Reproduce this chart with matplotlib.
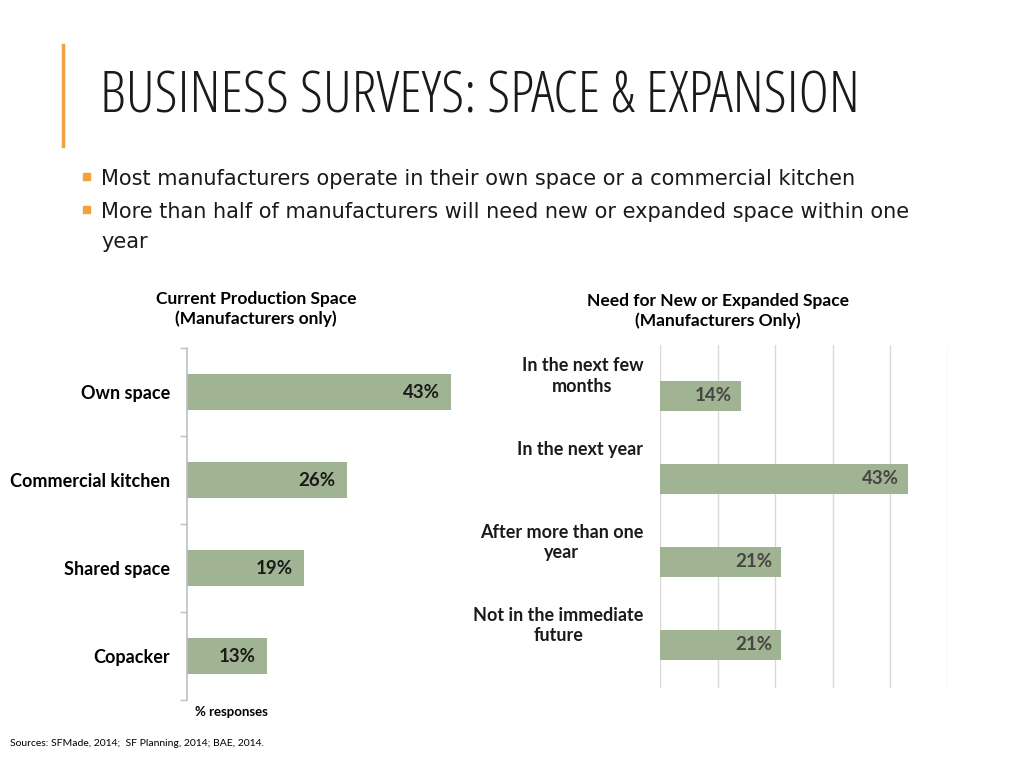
"""Business surveys slide: two horizontal bar charts."""

import matplotlib.pyplot as plt
from matplotlib.patches import Rectangle
from matplotlib.lines import Line2D

# data
space_cats = ['Own space', 'Commercial kitchen', 'Shared space', 'Copacker']
space_vals = [43, 26, 19, 13]

need_cats = ['In the next few\nmonths', 'In the next year',
             'After more than one\nyear', 'Not in the immediate\nfuture']
need_vals = [14, 43, 21, 21]

bullets = ['Most manufacturers operate in their own space or a commercial kitchen',
           'More than half of manufacturers will need new or expanded space within one\nyear']

BAR = '#A0B393'
ORANGE = '#F2A23A'
BODY = ['Lato', 'DejaVu Sans']

fig = plt.figure(figsize=(10.24, 7.68), dpi=100)

# slide title + accent bar
fig.add_artist(Line2D([63 / 1024, 63 / 1024], [1 - 45 / 768, 1 - 146 / 768],
                      color=ORANGE, lw=2.5))
fig.text(100 / 1024, 1 - 98 / 768, 'BUSINESS SURVEYS: SPACE & EXPANSION',
         family=['Open Sans', 'DejaVu Sans'], stretch='condensed', weight='light',
         fontsize=42, color='#1a1a1a', va='center', ha='left')

# bullets
for y, txt in zip([178, 211], bullets):
    fig.add_artist(Rectangle((83 / 1024, 1 - (y + 2) / 768), 7 / 1024, 7 / 768,
                             color=ORANGE, transform=fig.transFigure))
    fig.text(101 / 1024, 1 - (y - 9) / 768, txt, family='DejaVu Sans',
             fontsize=15, color='#1a1a1a', va='top', ha='left',
             linespacing=1.6)

# chart titles
fig.text(256 / 1024, 1 - 309 / 768, 'Current Production Space\n(Manufacturers only)',
         family=BODY, fontsize=12.5, weight='bold', ha='center', va='center',
         linespacing=1.3)
fig.text(718 / 1024, 1 - 311 / 768, 'Need for New or Expanded Space\n(Manufacturers Only)',
         family=BODY, fontsize=12.5, weight='bold', ha='center', va='center',
         linespacing=1.3)

# left chart
ax1 = fig.add_axes([187 / 1024, 68 / 768, 307 / 1024, 352 / 768])
ypos = range(len(space_cats))
ax1.barh(ypos, space_vals, height=0.41, color=BAR)
ax1.set_xlim(0, 50)
ax1.set_ylim(3.5, -0.5)
ax1.set_yticks([y - 0.5 for y in range(len(space_cats) + 1)])
ax1.set_yticklabels([])
ax1.set_yticks(list(ypos), minor=True)
ax1.set_yticklabels(space_cats, minor=True, family=BODY, fontsize=13,
                    weight='bold')
ax1.tick_params(axis='y', which='major', length=5, color='#BFBFBF', width=1)
ax1.tick_params(axis='y', which='minor', length=0, pad=12)
ax1.set_xticks([])
for s in ['top', 'right', 'bottom']:
    ax1.spines[s].set_visible(False)
ax1.spines['left'].set_color('#BFBFBF')
ax1.spines['left'].set_linewidth(1.2)
for y, v in zip(ypos, space_vals):
    ax1.annotate(f'{v}%', xy=(v, y), xytext=(-8, 0), textcoords='offset points',
                 ha='right', va='center', family=BODY, fontsize=13.5,
                 weight='bold', color='#1a1a1a')
ax1.set_xlabel('% responses', family=BODY, fontsize=9.5, weight='bold')
ax1.xaxis.set_label_coords(8 / 307, -0.018)
ax1.xaxis.label.set_ha('left')
ax1.xaxis.label.set_va('top')

# right chart
ax2 = fig.add_axes([660 / 1024, 80 / 768, 288 / 1024, 343 / 768])
ypos2 = range(len(need_cats))
ax2.barh(ypos2, need_vals, height=0.36, color=BAR, zorder=2)
ax2.set_xlim(0, 50)
ax2.set_ylim(3.52, -0.61)
ax2.set_xticks(range(0, 51, 10))
ax2.set_xticklabels([])
ax2.tick_params(axis='x', length=0)
ax2.grid(axis='x', color='#D9D9D9', lw=1, zorder=0)
ax2.set_yticks([])
for s in ax2.spines.values():
    s.set_visible(False)
for y, lab in zip(ypos2, need_cats):
    ax2.annotate(lab, xy=(0, y), xytext=(-12, 27.5), textcoords='offset points',
                 ha='right', va='top', multialignment='center', family=BODY,
                 fontsize=13, weight='bold', color='#1a1a1a', linespacing=1.25,
                 annotation_clip=False)
for y, v in zip(ypos2, need_vals):
    ax2.annotate(f'{v}%', xy=(v, y), xytext=(-6, 0), textcoords='offset points',
                 ha='right', va='center', family=BODY, fontsize=13.5,
                 weight='bold', color='#454545')

fig.text(10 / 1024, 1 - 743 / 768, 'Sources: SFMade, 2014;  SF Planning, 2014; BAE, 2014.',
         family=BODY, fontsize=7.5, va='center', ha='left')

fig.savefig('out.png', dpi=100)
